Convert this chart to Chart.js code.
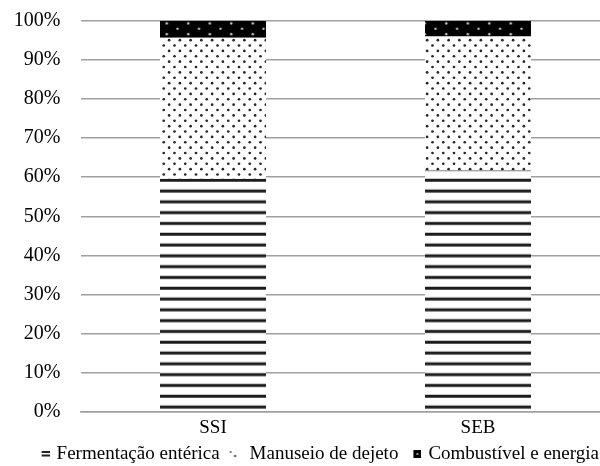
<!DOCTYPE html>
<html>
<head>
<meta charset="utf-8">
<script src="https://cdn.jsdelivr.net/npm/chart.js@4.4.1/dist/chart.umd.min.js"></script>
<style>
  html, body { margin: 0; padding: 0; background: #fff; width: 600px; height: 466px; overflow: hidden; }
  #wrap { position: relative; width: 637px; height: 466px; }
</style>
</head>
<body>
<div id="wrap"><canvas id="chart"></canvas></div>
<script>
// Share of emissions by source (%), per production system
const categories = ['SSI', 'SEB'];
const seriesNames = ['Fermentação entérica', 'Manuseio de dejeto', 'Combustível e energia'];
const fermentacao = [59.6, 61.7];
const manuseio = [36.1, 34.3];
const combustivel = [4.3, 4.0];
const yTickValues = [0, 10, 20, 30, 40, 50, 60, 70, 80, 90, 100];

const FONT = "'Liberation Serif', 'Times New Roman', serif";

function makeTile(w, h, draw) {
  const c = document.createElement('canvas');
  c.width = w; c.height = h;
  draw(c.getContext('2d'), w, h);
  return c;
}
function dot(g, x, y, r) {
  g.beginPath(); g.arc(x, y, r, 0, Math.PI * 2); g.fill();
}

const canvas = document.getElementById('chart');
const ctx = canvas.getContext('2d');

// horizontal stripes
const stripeTile = makeTile(8, 54, (g, w, h) => {
  g.fillStyle = '#fff'; g.fillRect(0, 0, w, h);
  g.fillStyle = '#1c1c1c';
  for (let k = 0; k < 5; k++) g.fillRect(0, k * 10.8, w, 3);
});
const stripes = ctx.createPattern(stripeTile, 'repeat');
stripes.setTransform(new DOMMatrix([1, 0, 0, 1, 0, 16.7]));

// small staggered dots on white
const STEP = 10.75;
const dotTile = makeTile(43, 43, (g, w, h) => {
  g.fillStyle = '#fff'; g.fillRect(0, 0, w, h);
  g.fillStyle = '#262626';
  for (let i = 0; i < 4; i++) for (let j = 0; j < 4; j++) {
    dot(g, i * STEP + 2.5, j * STEP + 2.5, 1.35);
    dot(g, i * STEP + 2.5 + STEP / 2, j * STEP + 2.5 + STEP / 2, 1.35);
  }
});
const dots = ctx.createPattern(dotTile, 'repeat');

// light dots on black
const darkTile = makeTile(43, 43, (g, w, h) => {
  g.fillStyle = '#000'; g.fillRect(0, 0, w, h);
  g.fillStyle = '#d4d4d4';
  for (let i = 0; i < 2; i++) for (let j = 0; j < 4; j++) {
    dot(g, i * 21.5 + 5, j * STEP + 2.7, 1.2);
    dot(g, i * 21.5 + 5 + 10.75, j * STEP + 2.7 + STEP / 2, 1.2);
  }
});
const darkDots = ctx.createPattern(darkTile, 'repeat');
darkDots.setTransform(new DOMMatrix([1, 0, 0, 1, 11.3, 9.85]));

// legend markers (drawn in the right part of a wider canvas so they sit close to the text)
const legendMarks = [
  makeTile(14, 8, g => { g.fillStyle = '#222'; g.fillRect(6, 1, 8, 2); g.fillRect(6, 4.5, 8, 2); }),
  makeTile(14, 8, g => { g.fillStyle = '#555'; dot(g, 2, 2, 1); dot(g, 6.5, 6, 1.2); }),
  makeTile(14, 8, g => { g.fillStyle = '#000'; g.fillRect(6, 0, 8, 8); g.fillStyle = '#bbb'; dot(g, 10, 4, 1.1); })
];

const fills = [stripes, dots, darkDots];
const seriesData = [fermentacao, manuseio, combustivel];

new Chart(canvas, {
  type: 'bar',
  data: {
    labels: categories,
    datasets: seriesNames.map((name, i) => ({
      label: name,
      data: seriesData[i],
      backgroundColor: fills[i],
      borderWidth: 0,
      barPercentage: 0.4,
      categoryPercentage: 1.0
    }))
  },
  options: {
    responsive: true,
    maintainAspectRatio: false,
    animation: false,
    devicePixelRatio: 1,
    layout: { padding: { top: 21, left: 0, right: 26.5, bottom: 0 } },
    plugins: {
      tooltip: { enabled: false },
      legend: {
        position: 'bottom',
        align: 'end',
        maxHeight: 33,
        labels: {
          font: { family: FONT, size: 19 },
          color: '#000',
          boxWidth: 9,
          boxHeight: 8,
          padding: 11.5,
          usePointStyle: true,
          generateLabels: chart => chart.data.datasets.map((ds, i) => ({
            text: ds.label,
            pointStyle: legendMarks[i],
            fillStyle: '#000',
            strokeStyle: '#000',
            lineWidth: 0,
            hidden: false,
            datasetIndex: i
          }))
        }
      }
    },
    scales: {
      x: {
        stacked: true,
        grid: { display: false, drawTicks: false },
        border: { display: true, color: '#a0a0a0', width: 1.5 },
        ticks: { font: { family: FONT, size: 19 }, color: '#000', padding: 5 },
        afterFit: s => { s.height = 21.5; }
      },
      y: {
        stacked: true,
        min: 0,
        max: 100,
        grid: { color: '#a0a0a0', lineWidth: 1.5, drawTicks: false },
        border: { display: false },
        afterBuildTicks: s => { s.ticks = yTickValues.map(v => ({ value: v })); },
        ticks: {
          font: { family: FONT, size: 20 },
          color: '#000',
          padding: 20,
          callback: v => v + '%'
        },
        afterFit: s => { s.width = 80.5; s.paddingTop = 0; s.paddingBottom = 0; }
      }
    }
  }
});
</script>
</body>
</html>
